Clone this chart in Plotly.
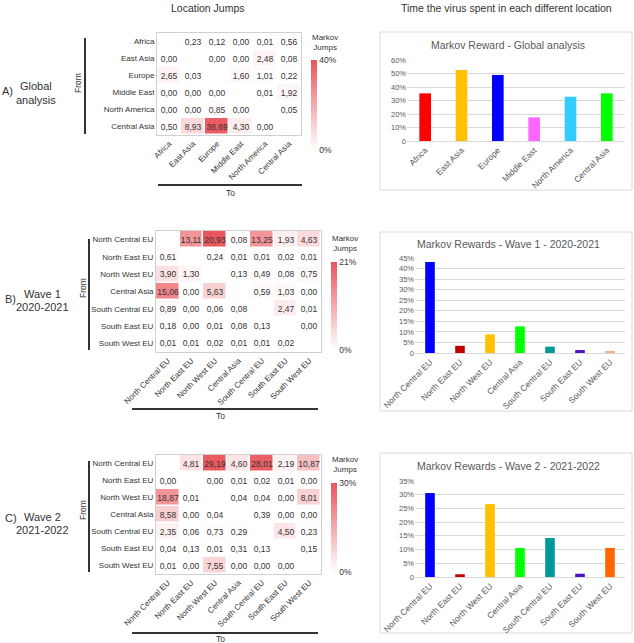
import plotly.graph_objects as go

W, H = 634, 643
def xd(px): return px / W
def yd(py): return 1 - py / H

# ---------------- data ----------------
regions_a = ["Africa", "East Asia", "Europe", "Middle East", "North America", "Central Asia"]
jumps_a = [
    [None, 0.23, 0.12, 0.00, 0.01, 0.56],
    [0.00, None, 0.00, 0.00, 2.48, 0.08],
    [2.65, 0.03, None, 1.60, 1.01, 0.22],
    [0.00, 0.00, 0.00, None, 0.01, 1.92],
    [0.00, 0.00, 0.85, 0.00, None, 0.05],
    [0.50, 8.93, 38.69, 4.30, 0.00, None],
]
regions_eu = ["North Central EU", "North East EU", "North West EU", "Central Asia",
              "South Central EU", "South East EU", "South West EU"]
jumps_b = [
    [None, 13.11, 20.93, 0.08, 13.25, 1.93, 4.63],
    [0.61, None, 0.24, 0.01, 0.01, 0.02, 0.01],
    [3.90, 1.30, None, 0.13, 0.49, 0.08, 0.75],
    [15.06, 0.00, 5.63, None, 0.59, 1.03, 0.00],
    [0.89, 0.00, 0.06, 0.08, None, 2.47, 0.01],
    [0.18, 0.00, 0.01, 0.08, 0.13, None, 0.00],
    [0.01, 0.01, 0.02, 0.01, 0.01, 0.02, None],
]
jumps_c = [
    [None, 4.81, 29.19, 4.60, 28.01, 2.19, 10.87],
    [0.00, None, 0.00, 0.01, 0.02, 0.01, 0.00],
    [18.87, 0.01, None, 0.04, 0.04, 0.00, 8.01],
    [8.58, 0.00, 0.04, None, 0.39, 0.00, 0.00],
    [2.35, 0.06, 0.73, 0.29, None, 4.50, 0.23],
    [0.04, 0.13, 0.01, 0.31, 0.13, None, 0.15],
    [0.01, 0.00, 7.55, 0.00, 0.00, 0.00, None],
]
cmax_a, cmax_b, cmax_c = 40, 21, 30

reward_a = [35.3, 52.6, 48.9, 17.5, 32.8, 35.3]
reward_b = [43.1, 3.4, 8.8, 12.6, 3.0, 1.4, 0.6]
reward_c = [30.6, 1.0, 26.6, 10.6, 14.2, 1.2, 10.6]
colors_a = ["#ff0000", "#ffc000", "#0000ff", "#ff66ff", "#33ccff", "#00ff00"]
colors_b = ["#0000ff", "#c00000", "#ffc000", "#00ff00", "#009999", "#5010c8", "#e8b48c"]
colors_c = ["#0000ff", "#c00000", "#ffc000", "#00ff00", "#009999", "#5010c8", "#ff6600"]

FONT = "Liberation Sans, Arial, sans-serif"
TXT = "#333333"
GREY = "#595959"

def fmt(m):
    return [["" if v is None else f"{v:.2f}".replace(".", ",") for v in row] for row in m]

fig = go.Figure()

def add_heat(z, labels, cmax, xa, ya, cb_x, cb_top, cb_bot):
    fig.add_trace(go.Heatmap(
        z=z, x=labels, y=labels, text=fmt(z), texttemplate="%{text}",
        textfont=dict(size=8.5, color=TXT, family=FONT),
        colorscale=[[0, "#ffffff"], [1, "#ea555c"]], zmin=0, zmax=cmax,
        xgap=1.5, ygap=1.5, hoverongaps=False,
        xaxis=xa, yaxis=ya,
        colorbar=dict(x=xd(cb_x), xanchor="left", y=yd(cb_top), yanchor="top",
                      len=cb_bot - cb_top, lenmode="pixels", thickness=6,
                      tickvals=[0, cmax], ticktext=["0%", f"{cmax}%"], ticks="",
                      outlinewidth=0, tickfont=dict(size=8.5, color=TXT, family=FONT),
                      ypad=0, xpad=0),
    ))

def add_bar(vals, labels, colors, xa, ya):
    fig.add_trace(go.Bar(x=labels, y=vals, marker=dict(color=colors, line=dict(width=0)),
                         xaxis=xa, yaxis=ya, showlegend=False))

add_heat(jumps_a, regions_a, cmax_a, "x", "y", 311, 60, 150)
add_bar(reward_a, regions_a, colors_a, "x2", "y2")
add_heat(jumps_b, regions_eu, cmax_b, "x3", "y3", 331, 262, 350)
add_bar(reward_b, regions_eu, colors_b, "x4", "y4")
add_heat(jumps_c, regions_eu, cmax_c, "x5", "y5", 331, 483, 572)
add_bar(reward_c, regions_eu, colors_c, "x6", "y6")

def heat_axes(n, x0, x1, y0, y1):
    xs = "" if n == 1 else str(n)
    common = dict(showgrid=False, zeroline=False, ticks="", showline=True, mirror=True,
                  linecolor="#d0d0d0", linewidth=1, tickfont=dict(size=8, color=TXT, family=FONT))
    fig.update_layout(**{
        f"xaxis{xs}": dict(domain=[xd(x0), xd(x1)], anchor=f"y{xs}", tickangle=-45, **common),
        f"yaxis{xs}": dict(domain=[yd(y1), yd(y0)], anchor=f"x{xs}", autorange="reversed", **common),
    })

def bar_axes(n, x0, x1, y0, y1, ymax, step):
    xs = str(n)
    tv = list(range(0, ymax + 1, step))
    tt = ["0"] + [f"{v}%" for v in tv[1:]]
    fig.update_layout(**{
        f"xaxis{xs}": dict(domain=[xd(x0), xd(x1)], anchor=f"y{xs}", tickangle=-45,
                           showline=True, linecolor="#d9d9d9", linewidth=1, ticks="",
                           showgrid=False, zeroline=False,
                           tickfont=dict(size=8.5, color=GREY, family=FONT)),
        f"yaxis{xs}": dict(domain=[yd(y1), yd(y0)], anchor=f"x{xs}", range=[0, ymax],
                           tickvals=tv, ticktext=tt, showgrid=True, gridcolor="#d9d9d9",
                           zeroline=False, ticks="", showline=False,
                           tickfont=dict(size=7.5, color=GREY, family=FONT)),
    })

heat_axes(1, 157, 301, 33, 135)
bar_axes(2, 407, 625, 60, 141, 60, 10)
heat_axes(3, 156, 321, 231, 352)
bar_axes(4, 415, 625, 258, 353, 45, 5)
heat_axes(5, 156, 321, 455, 574)
bar_axes(6, 415, 625, 481, 577, 35, 5)

shapes = []
annotations = []

def ann(x, y, text, size=8.5, color=TXT, xanchor="center", yanchor="middle", angle=0):
    annotations.append(dict(x=xd(x), y=yd(y), xref="paper", yref="paper", text=text,
                            showarrow=False, xanchor=xanchor, yanchor=yanchor, textangle=angle,
                            font=dict(size=size, color=color, family=FONT)))

def line(x0, y0, x1, y1, color="#333333", width=2):
    shapes.append(dict(type="line", xref="paper", yref="paper", x0=xd(x0), y0=yd(y0),
                       x1=xd(x1), y1=yd(y1), line=dict(color=color, width=width)))

def box(x0, y0, x1, y1):
    shapes.append(dict(type="rect", xref="paper", yref="paper", x0=xd(x0), y0=yd(y0),
                       x1=xd(x1), y1=yd(y1), line=dict(color="#d9d9d9", width=1),
                       fillcolor="rgba(0,0,0,0)", layer="below"))

# column titles
ann(208, 8, "Location Jumps", size=10.5)
ann(506, 8, "Time the virus spent in each different location", size=10.5)

# panel labels
ann(0, 91, "A)", size=11, xanchor="left")
ann(36, 86, "Global", size=11)
ann(36, 100, "analysis", size=11)
ann(3, 299, "B)", size=11, xanchor="left")
ann(42, 294, "Wave 1", size=11)
ann(42, 307, "2020-2021", size=11)
ann(3, 518, "C)", size=11, xanchor="left")
ann(42, 517, "Wave 2", size=11)
ann(42, 530, "2021-2022", size=11)

# From / To
line(85, 38, 85, 134)
ann(78, 83, "From", angle=-90)
line(158, 185, 302, 185)
ann(230, 193, "To")
line(89, 239, 89, 350)
ann(83, 288, "From", angle=-90)
line(132, 409, 318, 409)
ann(220, 416, "To")
line(89, 461, 89, 572)
ann(83, 510, "From", angle=-90)
line(132, 633, 318, 633)
ann(220, 639, "To")

# colorbar titles
ann(310, 42, "Markov<br>Jumps", size=8, xanchor="left")
ann(330, 243, "Markov<br>Jumps", size=8, xanchor="left")
ann(330, 464, "Markov<br>Jumps", size=8, xanchor="left")

# bar chart frames and titles
box(380, 32, 632, 190)
ann(508, 45, "Markov Reward - Global analysis", size=10.5, color=GREY)
box(380, 232, 632, 411)
ann(508, 244, "Markov Rewards - Wave 1 - 2020-2021", size=10.5, color=GREY)
box(380, 453, 632, 633)
ann(508, 466, "Markov Rewards - Wave 2 - 2021-2022", size=10.5, color=GREY)

fig.update_layout(width=W, height=H,
                  margin=dict(l=0, r=0, t=0, b=0, autoexpand=False),
                  paper_bgcolor="white", plot_bgcolor="white",
                  bargap=0.68, shapes=shapes, annotations=annotations,
                  font=dict(family=FONT, color=TXT))

fig.write_html("out.html", config={"displayModeBar": False},
               post_script="document.body.style.margin='0';document.body.style.overflow='hidden';")
